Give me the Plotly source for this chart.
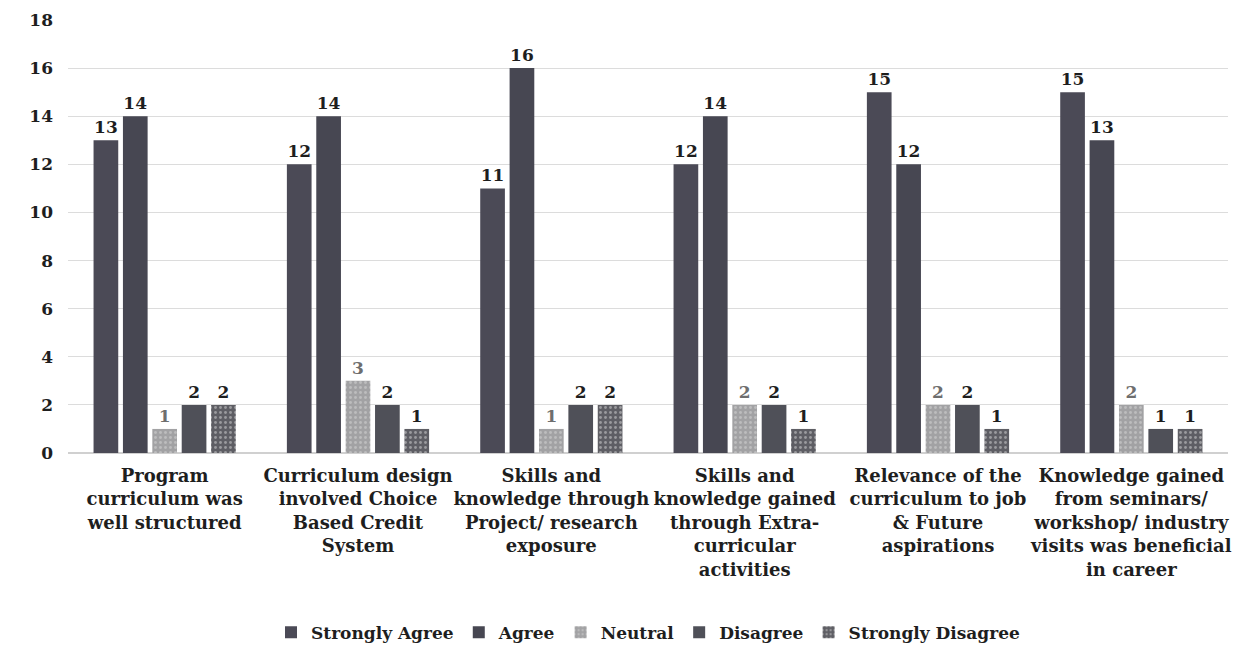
import plotly.graph_objects as go

categories = [
    "Program<br>curriculum was<br>well structured",
    "Curriculum design<br>involved Choice<br>Based Credit<br>System",
    "Skills and<br>knowledge through<br>Project/ research<br>exposure",
    "Skills and<br>knowledge gained<br>through Extra-<br>curricular<br>activities",
    "Relevance of the<br>curriculum to job<br>& Future<br>aspirations",
    "Knowledge gained<br>from seminars/<br>workshop/ industry<br>visits was beneficial<br>in career",
]

strongly_agree = [13, 12, 11, 12, 15, 15]
agree = [14, 14, 16, 14, 12, 13]
neutral = [1, 3, 1, 2, 2, 2]
disagree = [2, 2, 2, 2, 2, 1]
strongly_disagree = [2, 1, 2, 1, 1, 1]

y_ticks = [0, 2, 4, 6, 8, 10, 12, 14, 16, 18]

series = [
    ("Strongly Agree", strongly_agree, "#4b4a56", None, "#1e1e1e"),
    ("Agree", agree, "#474752", None, "#1e1e1e"),
    ("Neutral", neutral, "#a2a2a4", ".", "#6e6e6e"),
    ("Disagree", disagree, "#4f5058", None, "#1e1e1e"),
    ("Strongly Disagree", strongly_disagree, "#5e5e64", ".", "#1e1e1e"),
]

serif = "DejaVu Serif"

fig = go.Figure()
for name, vals, color, pat, tcolor in series:
    marker = dict(color=color, line=dict(width=0))
    if pat:
        marker["pattern"] = dict(shape=pat, fgcolor="#d8d8d8", size=5, solidity=0.25)
    fig.add_trace(go.Bar(
        name=name,
        x=categories,
        y=vals,
        marker=marker,
        text=[str(v) for v in vals],
        textposition="outside",
        textfont=dict(family=serif, size=17, color=tcolor, weight="bold"),
        cliponaxis=False,
    ))

fig.update_layout(
    width=1241,
    height=665,
    barmode="group",
    bargap=0.24,
    bargroupgap=0.16,
    plot_bgcolor="white",
    paper_bgcolor="white",
    margin=dict(l=68, r=10, t=17, b=212),
    font=dict(family=serif, size=16, color="#1e1e1e"),
    legend=dict(
        orientation="h",
        x=0.5, xanchor="center",
        y=-0.415, yanchor="middle",
        font=dict(family=serif, size=17, color="#1e1e1e", weight="bold"),
        itemwidth=30,
        traceorder="normal",
    ),
    yaxis=dict(
        range=[0, 18],
        tickvals=y_ticks,
        showgrid=True,
        gridcolor="#dcdcdc",
        gridwidth=1,
        zeroline=True,
        zerolinecolor="#d0d0d0",
        showline=False,
        ticks="",
        ticklabelstandoff=14,
        tickfont=dict(family=serif, size=17, color="#1e1e1e", weight="bold"),
    ),
    xaxis=dict(
        showline=False,
        ticks="",
        tickangle=0,
        ticklabelstandoff=10,
        tickfont=dict(family=serif, size=18, color="#1e1e1e", weight="bold"),
    ),
)

fig.write_html("out.html")
